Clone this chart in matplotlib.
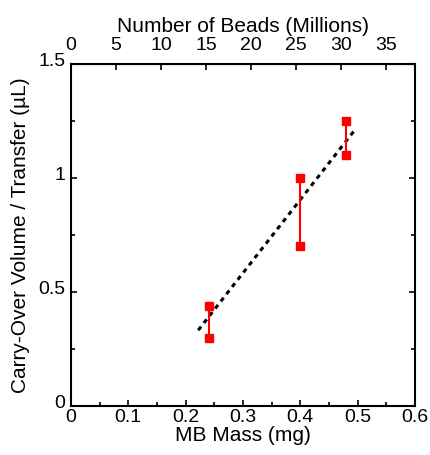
import matplotlib.pyplot as plt
from matplotlib.transforms import ScaledTranslation

plt.rcParams['font.family'] = ['Liberation Sans', 'DejaVu Sans']

# MB mass (mg) and carry-over range (uL) for each bead amount
mass = [0.24, 0.40, 0.48]
carry_low = [0.30, 0.70, 1.10]
carry_high = [0.44, 1.00, 1.25]

# linear fit drawn across the data
fit_x = [0.222, 0.496]
fit_y = [0.332, 1.214]

beads_per_mg = 63.7  # millions of beads per mg

fig = plt.figure(figsize=(4.3, 4.55), dpi=100)
ax = fig.add_axes([0.165, 0.108, 0.800, 0.751])

ax.plot(fit_x, fit_y, color='black', linestyle=(0, (1.5, 1.5)), linewidth=2.2, zorder=2)

for m, lo, hi in zip(mass, carry_low, carry_high):
    ax.plot([m, m], [lo, hi], color='red', linewidth=1.5, marker='s',
            markersize=6, markerfacecolor='red', markeredgecolor='red', zorder=3)

ax.set_xlim(0, 0.6)
ax.set_ylim(0, 1.5)
ax.set_xticks([0, 0.1, 0.2, 0.3, 0.4, 0.5, 0.6])
ax.set_xticklabels(['0', '0.1', '0.2', '0.3', '0.4', '0.5', '0.6'])
ax.set_xticks([0.05, 0.15, 0.25, 0.35, 0.45, 0.55], minor=True)
ax.set_yticks([0, 0.5, 1, 1.5])
ax.set_yticklabels(['0', '0.5', '1', '1.5'])
ax.set_yticks([0.25, 0.75, 1.25], minor=True)
ax.tick_params(which='both', direction='in', right=True, labelsize=14, width=1.2)
ax.tick_params(which='major', length=4, pad=2)
ax.tick_params(axis='y', which='major', pad=4)
ax.tick_params(which='minor', length=3)
for s in ax.spines.values():
    s.set_linewidth(1.5)

# y tick labels sit a little above their ticks in the original
shift = ScaledTranslation(0, 3 / 72, fig.dpi_scale_trans)
for lbl in ax.get_yticklabels():
    lbl.set_transform(lbl.get_transform() + shift)

ax.set_xlabel('MB Mass (mg)', fontsize=15, labelpad=0)
ax.set_ylabel('Carry-Over Volume / Transfer (\u00b5L)', fontsize=15, labelpad=6)

top = ax.secondary_xaxis('top', functions=(lambda x: x * beads_per_mg, lambda b: b / beads_per_mg))
top.set_xticks([0, 5, 10, 15, 20, 25, 30, 35])
top.tick_params(direction='in', length=4, width=1.2, labelsize=14, pad=7)
top.set_xlabel('Number of Beads (Millions)', fontsize=15, labelpad=4)

fig.savefig('out.png', dpi=100)
